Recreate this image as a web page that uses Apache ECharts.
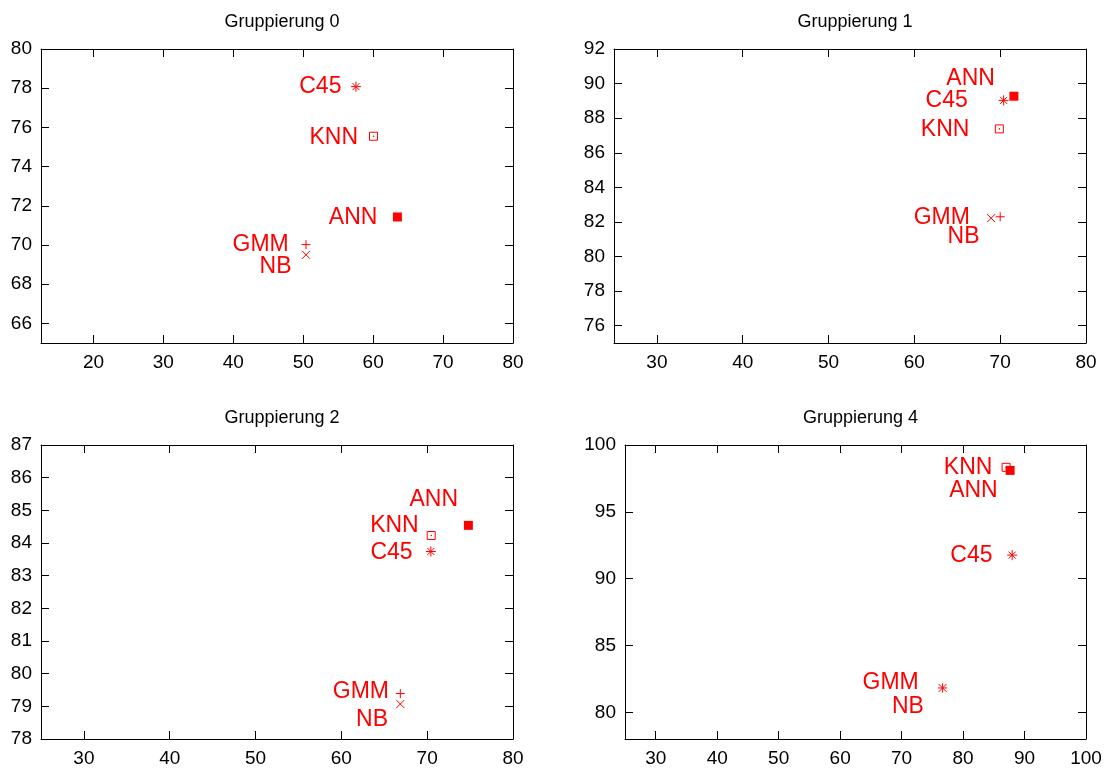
<!DOCTYPE html>
<html>
<head>
<meta charset="utf-8">
<script src="https://cdn.jsdelivr.net/npm/echarts@6/dist/echarts.min.js"></script>
<style>
  html, body { margin: 0; padding: 0; background: #fff; }
  #chart { width: 1105px; height: 769px; }
</style>
</head>
<body>
<div id="chart"></div>
<script>
// Classifiers shown in every panel
const methods = ['ANN', 'C45', 'KNN', 'GMM', 'NB'];
const panelTitles = ['Gruppierung 0', 'Gruppierung 1', 'Gruppierung 2', 'Gruppierung 4'];

// Point coordinates per grouping (order follows `methods`)
const group0X = [63.47, 57.54, 60.05, 50.4, 50.4];
const group0Y = [71.43, 78.08, 75.55, 70.02, 69.5];
const group1X = [71.6, 70.4, 69.9, 70.0, 68.95];
const group1Y = [89.27, 89.03, 87.38, 82.3, 82.22];
const group2X = [74.8, 70.43, 70.47, 66.87, 66.87];
const group2Y = [84.54, 83.74, 84.23, 79.39, 79.07];
const group4X = [87.65, 87.99, 87.0, 76.67, 76.67];
const group4Y = [98.1, 91.76, 98.33, 81.82, 81.82];

// Axis ranges
const xMin = [12.5, 25, 25, 25];
const xMax = [80, 80, 80, 100];
const yMin = [65, 75, 78, 78];
const yMax = [80, 92, 87, 100];

// Tick values
const xTicks0 = [20, 30, 40, 50, 60, 70, 80];
const xTicks1 = [30, 40, 50, 60, 70, 80];
const xTicks2 = [30, 40, 50, 60, 70, 80];
const xTicks4 = [30, 40, 50, 60, 70, 80, 90, 100];
const yTicks0 = [66, 68, 70, 72, 74, 76, 78, 80];
const yTicks1 = [76, 78, 80, 82, 84, 86, 88, 90, 92];
const yTicks2 = [78, 79, 80, 81, 82, 83, 84, 85, 86, 87];
const yTicks4 = [80, 85, 90, 95, 100];

const panelsX = [group0X, group1X, group2X, group4X];
const panelsY = [group0Y, group1Y, group2Y, group4Y];
const xTicks = [xTicks0, xTicks1, xTicks2, xTicks4];
const yTicks = [yTicks0, yTicks1, yTicks2, yTicks4];

// ---- layout & style ----
const FONT = '"Liberation Sans", Arial, Helvetica, sans-serif';
const RED = '#ff0000';

const gridBoxes = [
  { left: 41, top: 49, width: 472, height: 294 },
  { left: 614, top: 49, width: 472, height: 294 },
  { left: 41, top: 445, width: 472, height: 294 },
  { left: 625, top: 445, width: 461, height: 294 }
];

// Label placement: [gap from point centre to text end (px), vertical shift (px)]
const labelPlacement = [
  [[21, -2], [13, -2.7], [14, -1], [15.8, -2.3], [13, 9.7]],
  [[20, -20.5], [34.3, -2.3], [28.4, -2], [28.8, -2], [10.2, 15.7]],
  [[11.3, -28.6], [16.8, -1.4], [11, -12], [9.8, -4], [10.8, 13.4]],
  [[13.4, 17.5], [18.2, -2.3], [12.2, -2.5], [22.4, -7.6], [17.2, 15.9]]
];
const LABEL_DX = 1;    // fine horizontal correction for glyph side bearing
const LABEL_DY = 2.5;  // fine vertical correction for text baseline

// gnuplot-like point types
const outline = { color: 'none', borderColor: RED, borderWidth: 1, opacity: 1 };
const markers = {
  ANN: { symbol: 'rect', size: 9, style: { color: RED, borderWidth: 0, opacity: 1 } },
  C45: { symbol: 'path://M0 5L10 5M5 0L5 10M1.5 1.5L8.5 8.5M8.5 1.5L1.5 8.5', size: 10, style: outline },
  KNN: { symbol: 'path://M0 0L10 0L10 10L0 10ZM4.6 4.6L5.4 4.6L5.4 5.4L4.6 5.4Z', size: 8, style: outline },
  GMM: { symbol: 'path://M0 5L10 5M5 0L5 10', size: 9, style: outline },
  NB: { symbol: 'path://M0 0L10 10M10 0L0 10', size: 8, style: outline }
};

const axisLineStyle = { color: '#000', width: 1 };

const grid = [], xAxis = [], yAxis = [], series = [], title = [];

gridBoxes.forEach((box, i) => {
  grid.push(Object.assign({ containLabel: false }, box));

  title.push({
    text: panelTitles[i],
    left: box.left + box.width / 2,
    top: box.top - 41,
    textAlign: 'center',
    textStyle: { fontFamily: FONT, fontSize: 18, fontWeight: 'normal', color: '#000' }
  });

  const xt = xTicks[i], yt = yTicks[i];
  // bottom + mirrored top x axis
  xAxis.push({
    type: 'value', gridIndex: i, position: 'bottom', min: xMin[i], max: xMax[i],
    axisLine: { show: true, onZero: false, lineStyle: axisLineStyle },
    axisTick: { show: true, inside: true, length: 8, customValues: xt, lineStyle: axisLineStyle },
    axisLabel: { show: true, customValues: xt, margin: 10, fontFamily: FONT, fontSize: 19, color: '#000' },
    splitLine: { show: false }
  });
  xAxis.push({
    type: 'value', gridIndex: i, position: 'top', min: xMin[i], max: xMax[i],
    axisLine: { show: true, onZero: false, lineStyle: axisLineStyle },
    axisTick: { show: true, inside: true, length: 8, customValues: xt, lineStyle: axisLineStyle },
    axisLabel: { show: false },
    splitLine: { show: false }
  });
  // left + mirrored right y axis
  yAxis.push({
    type: 'value', gridIndex: i, position: 'left', min: yMin[i], max: yMax[i],
    axisLine: { show: true, onZero: false, lineStyle: axisLineStyle },
    axisTick: { show: true, inside: true, length: 8, customValues: yt, lineStyle: axisLineStyle },
    axisLabel: { show: true, customValues: yt, margin: 9, fontFamily: FONT, fontSize: 19, color: '#000' },
    splitLine: { show: false }
  });
  yAxis.push({
    type: 'value', gridIndex: i, position: 'right', min: yMin[i], max: yMax[i],
    axisLine: { show: true, onZero: false, lineStyle: axisLineStyle },
    axisTick: { show: true, inside: true, length: 8, customValues: yt, lineStyle: axisLineStyle },
    axisLabel: { show: false },
    splitLine: { show: false }
  });

  const xs = panelsX[i], ys = panelsY[i];
  series.push({
    type: 'scatter',
    xAxisIndex: 2 * i,
    yAxisIndex: 2 * i,
    silent: true,
    itemStyle: { opacity: 1 },
    emphasis: { disabled: true },
    data: methods.map((m, k) => {
      const mk = markers[m];
      const [gap, dy] = labelPlacement[i][k];
      return {
        name: m,
        value: [xs[k], ys[k]],
        symbol: mk.symbol,
        symbolSize: mk.size,
        itemStyle: mk.style,
        label: {
          show: true,
          position: 'left',
          formatter: '{b}',
          distance: gap - mk.size / 2 - LABEL_DX,
          offset: [0, dy + LABEL_DY],
          fontFamily: FONT,
          fontSize: 23,
          color: RED,
          opacity: 1
        }
      };
    })
  });
});

const chart = echarts.init(document.getElementById('chart'), null, { renderer: 'canvas' });
chart.setOption({
  animation: false,
  backgroundColor: '#fff',
  title, grid, xAxis, yAxis, series
});
</script>
</body>
</html>
